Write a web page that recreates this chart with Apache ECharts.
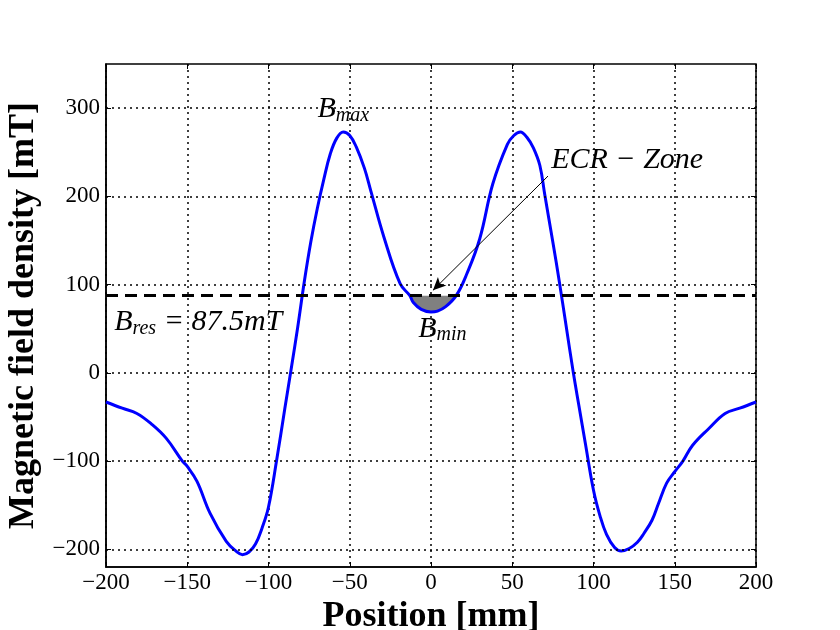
<!DOCTYPE html>
<html>
<head>
<meta charset="utf-8">
<script src="https://cdn.jsdelivr.net/npm/echarts@6/dist/echarts.min.js"></script>
<style>
html,body{margin:0;padding:0;background:#fff;}
#main{width:840px;height:630px;}
</style>
</head>
<body>
<div id="main"></div>
<script>
// 位置 [mm]
var posX = [-200,-190,-181,-172,-163,-153,-150,-144,-136,-126,-120,-116,-112,-108,-104,-100,-95,-90,-86,-82,-78,-74,-70,-66,-62,-58,-54,-50,-46,-41,-37,-29,-19,-13,-11,-6,0,4,9,15.5,22,30,38,47,51,55,59,63,67,70,75,79,83,87.6,91,95,100,104,108,113,117,122,127,131,136,140,145,150,155,161,171,181,190,200];
// 磁场 [mT]
var fieldB = [-33,-40,-46,-58,-74,-100,-106,-123,-159,-191,-202,-206,-203,-194,-176,-152,-99,-41,5,52,103,148,186,219,248,266,273,269,256,232,206,154,101,87.5,80,72,69,70,75,87.5,112,152,214,259,269,273,267,255,235,202,148,103,55,0,-37,-80,-133,-162,-183,-198,-202,-199,-192,-182,-167,-148,-125,-112,-100,-82,-63,-46,-40,-33];
var bRes = 87.5;
var xTicks = [-200,-150,-100,-50,0,50,100,150,200];
var yTicks = [-200,-100,0,100,200,300];

var serif = '"Liberation Serif","DejaVu Serif",serif';

var curve = [];
var fill = [];
for (var i = 0; i < posX.length; i++) {
	curve.push([posX[i], fieldB[i]]);
	if (fieldB[i] <= bRes && posX[i] > -30 && posX[i] < 30) {
		fill.push([posX[i], fieldB[i]]);
	}
}

function minus(v){
	return String(v).replace('-', '\u2212');
}

var tickStyle = {show:true, inside:true, length:5, lineStyle:{color:'#000', width:1}};
var rich = {
	b:{fontFamily:serif, fontStyle:'italic', fontSize:30, color:'#000', opacity:1},
	s:{fontFamily:serif, fontStyle:'italic', fontSize:20, color:'#000', opacity:1, padding:[13,0,0,0]}
};

var myChart = echarts.init(document.getElementById('main'));
myChart.setOption({
	backgroundColor:'#fff',
	animation:false,
	grid:{left:106, right:84, top:64, bottom:63, containLabel:false, outerBoundsMode:'none',
		show:true, borderColor:'#000', borderWidth:1.5, backgroundColor:'transparent'},
	xAxis:[{
		type:'value', min:-200, max:200, interval:50,
		name:'Position [mm]', nameLocation:'middle', nameGap:20,
		nameTextStyle:{fontFamily:serif, fontWeight:'bold', fontSize:36, color:'#000'},
		axisLine:{show:true, onZero:false, lineStyle:{color:'#000', width:1.5}},
		axisTick:tickStyle,
		axisLabel:{fontFamily:serif, fontSize:23, color:'#000', margin:4, formatter:minus},
		splitLine:{show:true, lineStyle:{color:'#000', type:[2,4], width:1.5}}
	},{
		type:'value', position:'top', min:-200, max:200, interval:50,
		axisLine:{show:false, onZero:false}, axisTick:tickStyle, axisLabel:{show:false}, splitLine:{show:false}
	}],
	yAxis:[{
		type:'value', min:-220, max:350,
		name:'Magnetic field density [mT]', nameLocation:'middle', nameGap:62,
		nameTextStyle:{fontFamily:serif, fontWeight:'bold', fontSize:36, color:'#000'},
		axisLine:{show:true, onZero:false, lineStyle:{color:'#000', width:1.5}},
		axisLabel:{fontFamily:serif, fontSize:23, color:'#000', margin:6,
			customValues:yTicks, formatter:minus},
		axisTick:{show:true, inside:true, length:5, lineStyle:{color:'#000', width:1}, customValues:yTicks},
		splitLine:{show:false}
	},{
		type:'value', position:'right', min:-220, max:350,
		axisLine:{show:false, onZero:false}, axisLabel:{show:false}, splitLine:{show:false},
		axisTick:{show:true, inside:true, length:5, lineStyle:{color:'#000', width:1}, customValues:yTicks}
	}],
	series:[
		{
			// 共振区域 (灰色)
			type:'line', data:fill, smooth:0.4, symbol:'none', z:1,
			lineStyle:{width:0},
			areaStyle:{color:'#808080', origin:bRes, opacity:1}
		},
		{
			// y 网格线
			type:'line', data:[], symbol:'none',
			markLine:{
				silent:true, symbol:'none', label:{show:false},
				lineStyle:{color:'#000', type:[2,4], width:1.5},
				data:yTicks.map(function(v){return {yAxis:v};})
			}
		},
		{
			type:'line', data:curve, smooth:0.4, symbol:'none', z:3,
			lineStyle:{color:'#0000ff', width:3},
			markLine:{
				silent:true, symbol:'none', label:{show:false},
				data:[
					{yAxis:bRes, lineStyle:{color:'#000', type:[12,7], width:3}},
					[
						{coord:[72,223], symbol:'none', lineStyle:{color:'#000', type:'solid', width:1}},
						{coord:[1.2,93.5], symbol:'arrow', symbolSize:[9,13]}
					]
				]
			}
		},
		{
			// 文字标注
			type:'scatter', symbol:'circle', symbolSize:0, z:5, silent:true,
			itemStyle:{color:'#000', opacity:1},
			data:[
				{value:[-54,299], label:{formatter:'{b|B}{s|max}', align:'center'}},
				{value:[7,50], label:{formatter:'{b|B}{s|min}', align:'center'}},
				{value:[-195,57], label:{formatter:'{b|B}{s|res}{b| = 87.5mT}', align:'left'}},
				{value:[74,241], label:{formatter:'{b|ECR \u2212 Zone}', align:'left'}}
			],
			label:{show:true, position:'inside', verticalAlign:'middle', color:'#000', opacity:1,
				textBorderWidth:0, rich:rich}
		}
	]
});
</script>
</body>
</html>
